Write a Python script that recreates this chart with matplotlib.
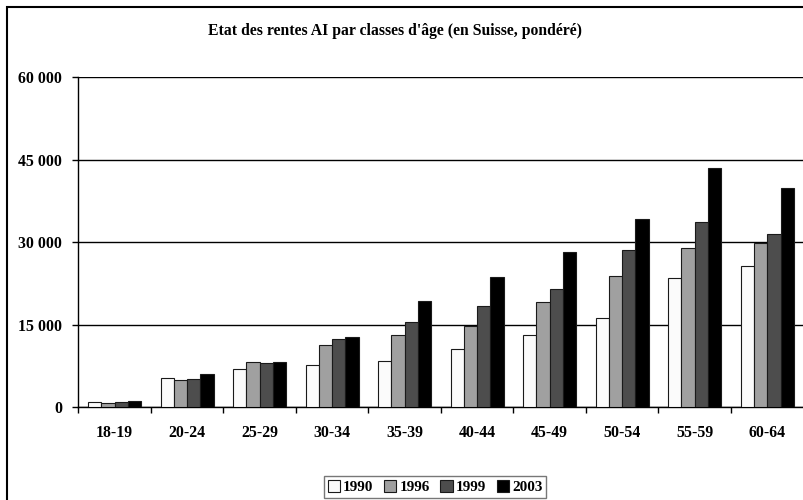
import matplotlib.pyplot as plt
import numpy as np
from matplotlib.patches import Rectangle

plt.rcParams['font.family'] = ['Liberation Serif', 'DejaVu Serif']
plt.rcParams['font.weight'] = 'bold'

# Classes d'age et rentes AI
age_classes = ['18-19', '20-24', '25-29', '30-34', '35-39', '40-44', '45-49', '50-54', '55-59', '60-64']
years = ['1990', '1996', '1999', '2003']
rentes_1990 = [850, 5200, 7000, 7600, 8300, 10600, 13100, 16150, 23500, 25600]
rentes_1996 = [800, 5000, 8200, 11200, 13050, 14700, 19050, 23800, 28900, 29900]
rentes_1999 = [900, 5050, 8000, 12300, 15500, 18400, 21550, 28500, 33700, 31500]
rentes_2003 = [1150, 6000, 8200, 12700, 19250, 23600, 28200, 34300, 43500, 39900]
y_ticks = [0, 15000, 30000, 45000, 60000]

series = [rentes_1990, rentes_1996, rentes_1999, rentes_2003]
colors = ['#fbfbfb', '#a0a0a0', '#4d4d4d', '#000000']

fig = plt.figure(figsize=(8.04, 5.0), dpi=100)
ax = fig.add_axes([78.3 / 804, 1 - 407 / 500, (803.5 - 78.3) / 804, (407 - 77.3) / 500])

x = np.arange(len(age_classes))
w = 0.183
for i, (vals, col) in enumerate(zip(series, colors)):
    ax.bar(x + (i - 1.5) * w, vals, w, color=col, edgecolor='#1a1a1a', linewidth=0.8,
           label=years[i], zorder=3)

ax.set_xlim(-0.5, len(age_classes) - 0.5)
ax.set_ylim(0, 60000)

# grille horizontale
ax.set_yticks(y_ticks)
ax.set_yticklabels([f'{v:,}'.replace(',', ' ') for v in y_ticks])
ax.yaxis.grid(True, color='black', linewidth=1.0, zorder=0)
ax.set_axisbelow(True)

# ticks x entre les categories
ax.set_xticks(np.arange(len(age_classes) + 1) - 0.5)
ax.set_xticklabels([])
ax.set_xticks(x, minor=True)
ax.set_xticklabels(age_classes, minor=True)
ax.tick_params(axis='x', which='minor', length=0, pad=13, labelsize=11.4)
ax.tick_params(axis='x', which='major', direction='out', length=4, width=1, color='black')
ax.tick_params(axis='y', direction='out', length=4, width=1, pad=7.5, labelsize=11.4)

for side in ['top', 'right']:
    ax.spines[side].set_visible(False)
ax.spines['left'].set_linewidth(1.0)
ax.spines['bottom'].set_linewidth(1.0)

fig.text(395 / 804, 1 - 31 / 500, "Etat des rentes AI par classes d'âge (en Suisse, pondéré)",
         ha='center', va='center', fontsize=11.3, fontweight='bold')

leg = fig.legend(loc='center', bbox_to_anchor=(435 / 804, 1 - 487 / 500), ncol=4,
                 fontsize=11, handlelength=0.8, handleheight=0.8, handletextpad=0.2,
                 columnspacing=0.7, borderpad=0.25, fancybox=False, frameon=True)
leg.get_frame().set_edgecolor('#555555')
leg.get_frame().set_linewidth(1.0)

# cadre exterieur du graphique
fig.patches.append(Rectangle((7 / 804, -0.1), 1.2, 1.1 - 7 / 500, transform=fig.transFigure,
                             fill=False, edgecolor='black', linewidth=1.5))

fig.savefig('out.png', dpi=100)
